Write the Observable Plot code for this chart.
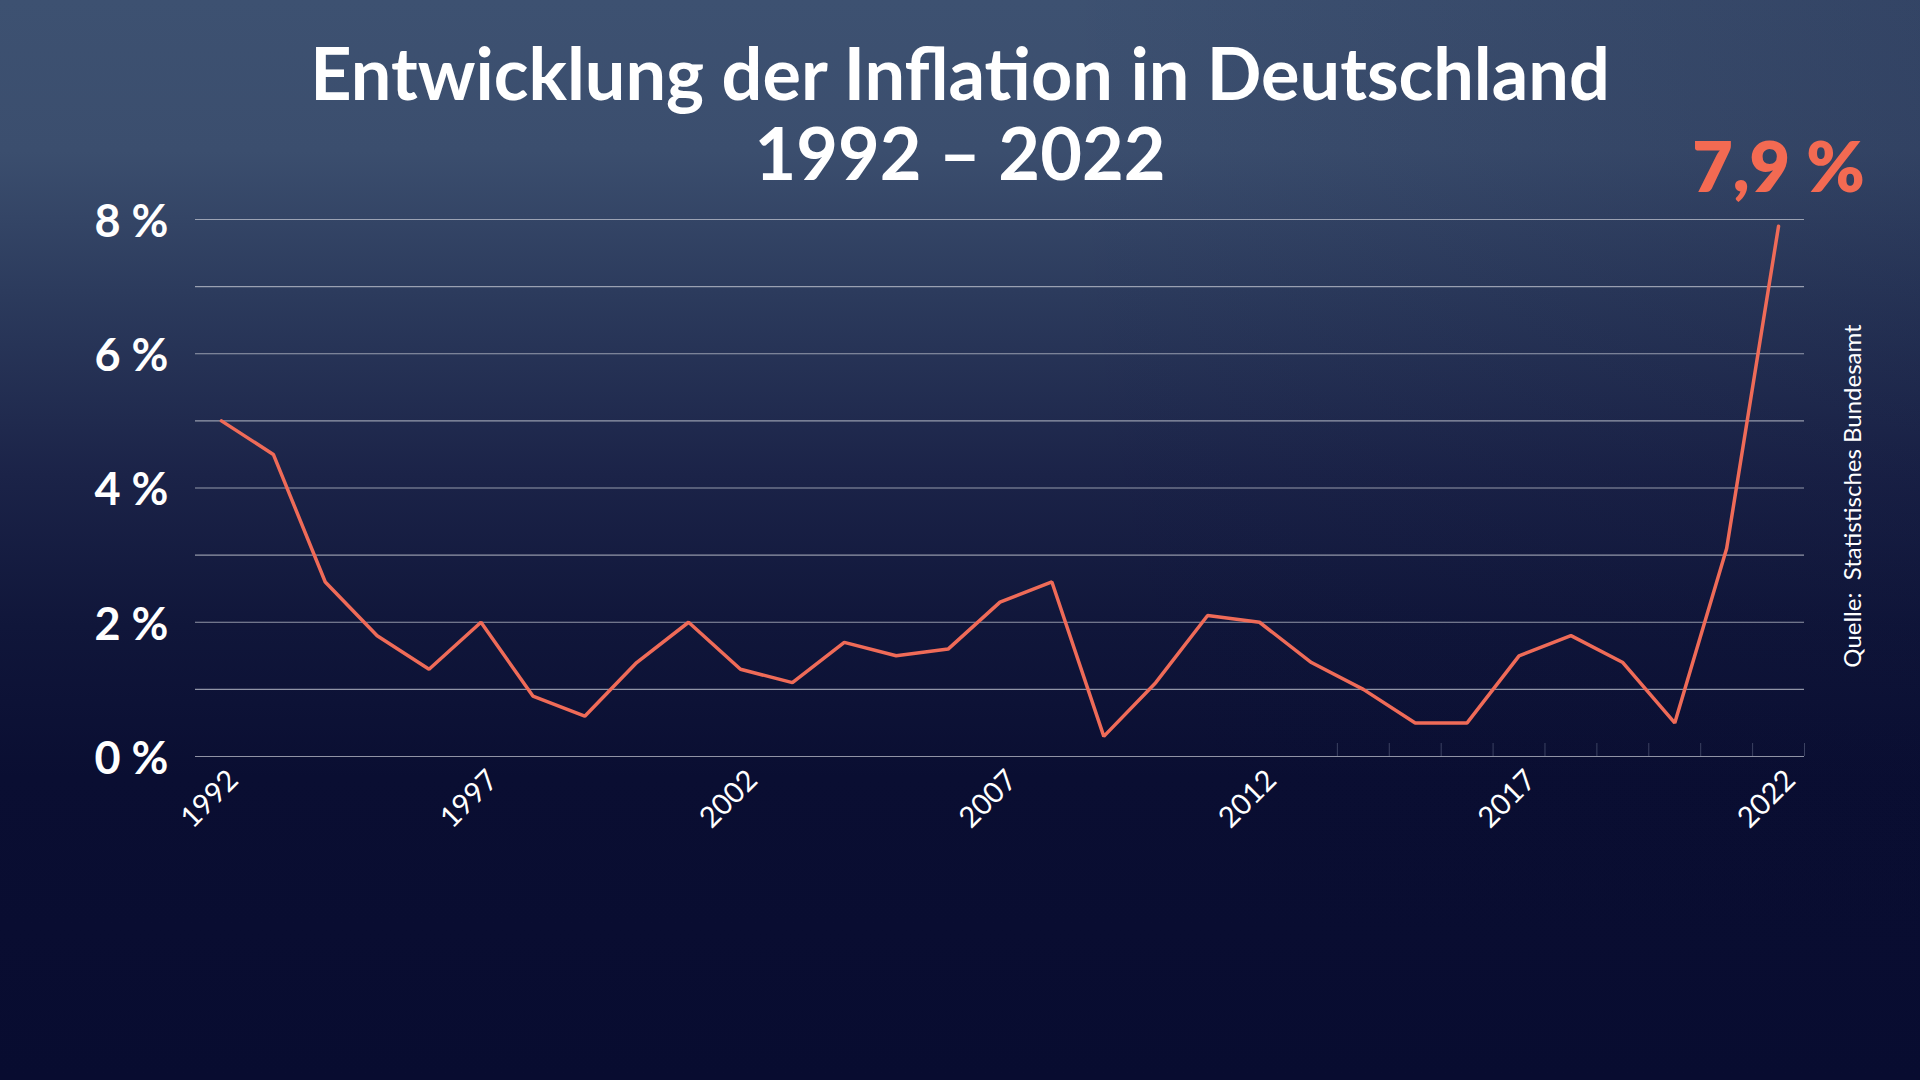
<!DOCTYPE html>
<html lang="de">
<head>
<meta charset="utf-8">
<title>Entwicklung der Inflation in Deutschland 1992 – 2022</title>
<script src="https://cdn.jsdelivr.net/npm/d3@7"></script>
<script src="https://cdn.jsdelivr.net/npm/@observablehq/plot@0.6"></script>
<style>
  html, body { margin: 0; padding: 0; }
  body {
    width: 1920px; height: 1080px; overflow: hidden; position: relative;
    background:
      linear-gradient(to right, rgba(8,12,48,0) 55%, rgba(8,12,48,0.18) 100%),
      linear-gradient(to bottom, #3d5171 0%, #3b4e6e 14%, #2c3b5d 27%, #1b2348 44%, #10163a 58%, #0a0e32 72%, #080c30 100%);
    font-family: Lato, "Noto Sans", sans-serif;
  }
  #chart { position: absolute; left: 0; top: 0; }
  #title {
    position: absolute; left: 0; top: 32px; width: 1920px;
    text-align: center; color: #fff; font-weight: 700;
    font-size: 72px; line-height: 80px; pointer-events: none;
  }
  #source {
    position: absolute; left: 1851px; top: 496px;
    transform: translate(-50%, -50%) rotate(-90deg);
    white-space: nowrap; color: #fff; font-size: 24px; font-weight: 400;
  }
</style>
</head>
<body>
<div id="chart"></div>
<div id="title">Entwicklung der Inflation in Deutschland<br>1992 – 2022</div>
<div id="source">Quelle:&nbsp; Statistisches Bundesamt</div>
<script>
// Verbraucherpreisindex, Veränderung gegenüber Vorjahr in %
const years = [1992, 1993, 1994, 1995, 1996, 1997, 1998, 1999, 2000, 2001,
               2002, 2003, 2004, 2005, 2006, 2007, 2008, 2009, 2010, 2011,
               2012, 2013, 2014, 2015, 2016, 2017, 2018, 2019, 2020, 2021, 2022];
const inflation = [5.0, 4.5, 2.6, 1.8, 1.3, 2.0, 0.9, 0.6, 1.4, 2.0,
                   1.3, 1.1, 1.7, 1.5, 1.6, 2.3, 2.6, 0.3, 1.1, 2.1,
                   2.0, 1.4, 1.0, 0.5, 0.5, 1.5, 1.8, 1.4, 0.5, 3.1, 7.9];
const yearLabels = [1992, 1997, 2002, 2007, 2012, 2017, 2022];
const percentLabels = [0, 2, 4, 6, 8];
const gridLines = [0, 1, 2, 3, 4, 5, 6, 7, 8];
const yearBoundaries = [2013.5, 2014.5, 2015.5, 2016.5, 2017.5, 2018.5, 2019.5, 2020.5, 2021.5, 2022.5];

const data = years.map((year, i) => ({year, value: inflation[i]}));
const latest = data[data.length - 1];
const de = v => v.toFixed(1).replace(".", ",");

const coral = "#EF6B58";

const chart = Plot.plot({
  width: 1920,
  height: 1080,
  marginLeft: 195,
  marginRight: 116,
  marginTop: 219,
  marginBottom: 324,
  style: {background: "transparent", color: "#fff", fontFamily: "Lato, 'Noto Sans', sans-serif", overflow: "visible"},
  x: {domain: [years[0] - 0.5, years[years.length - 1] + 0.5]},
  y: {domain: [0, 8]},
  marks: [
    Plot.ruleY(gridLines, {stroke: "#c9ccd6", strokeOpacity: 0.7, strokeWidth: 1.2}),
    Plot.axisX({ticks: yearBoundaries, tickSize: -13, tickFormat: () => "", stroke: "#3c4262", label: null}),
    Plot.axisX({
      ticks: yearLabels, tickSize: 0, tickRotate: -45, tickFormat: d => String(d),
      fontSize: 29, fontWeight: 400, fill: "#fff", label: null, textAnchor: "end",
      lineAnchor: "middle", dx: 12, dy: 7
    }),
    Plot.axisY({
      ticks: percentLabels, tickSize: 0, tickPadding: 27, tickFormat: d => `${d} %`,
      fontSize: 45, fontWeight: 700, fill: "#fff", label: null, dy: 3
    }),
    Plot.line(data, {x: "year", y: "value", stroke: coral, strokeWidth: 3.5, strokeLinejoin: "miter"}),
    Plot.text([latest], {
      x: "year", y: "value", text: d => `${de(d.value)} %`,
      lineAnchor: "bottom", dy: -34, fontSize: 70, fontWeight: 800, fill: "#F36A52"
    })
  ]
});
document.getElementById("chart").appendChild(chart);
</script>
</body>
</html>
